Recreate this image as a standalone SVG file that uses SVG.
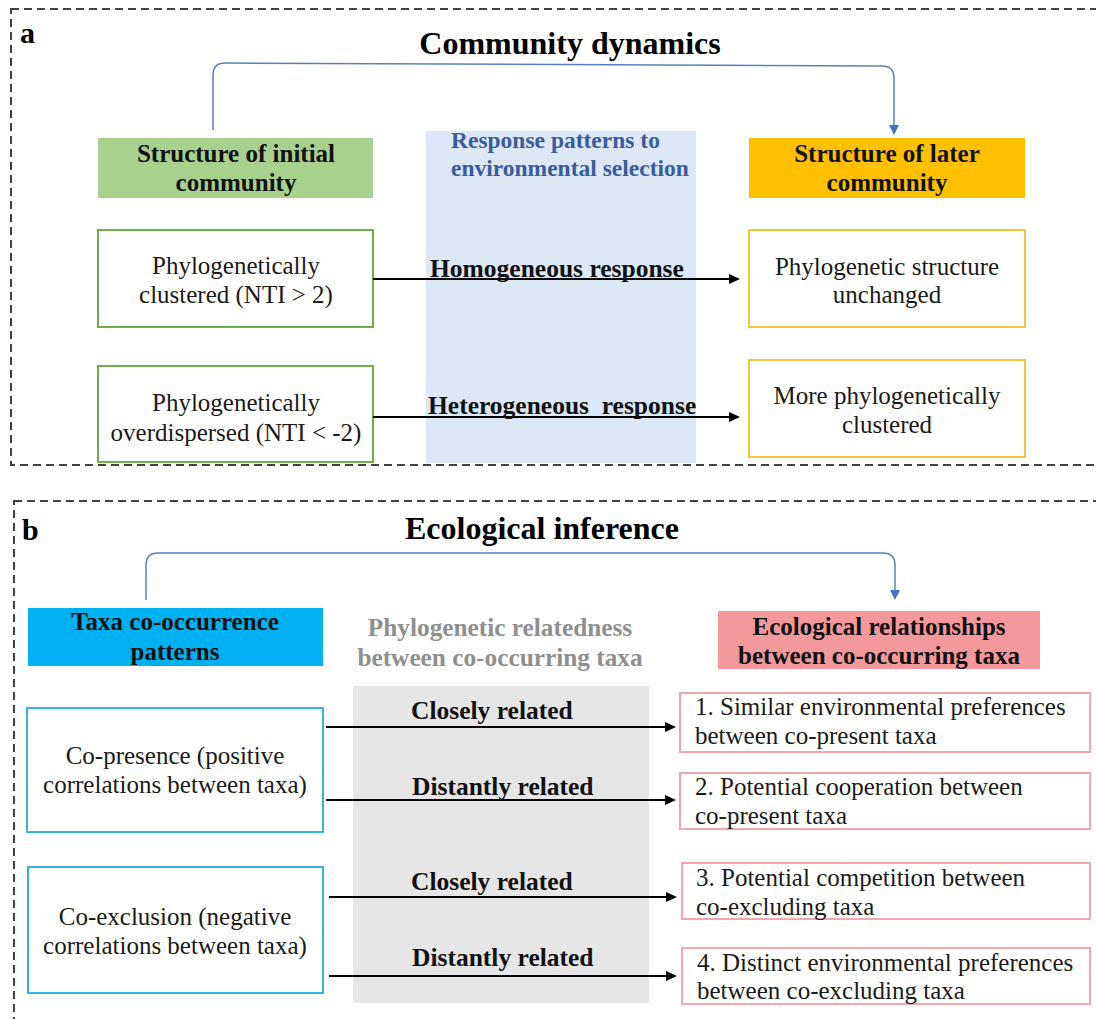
<svg xmlns="http://www.w3.org/2000/svg" width="1096" height="1019" viewBox="0 0 1096 1019">
<defs>
<marker id="ah" markerUnits="userSpaceOnUse" markerWidth="12" markerHeight="12" refX="0" refY="5" orient="auto"><path d="M0,0 L11,5 L0,10 z" fill="#000"/></marker>
<marker id="bh" markerUnits="userSpaceOnUse" markerWidth="12" markerHeight="12" refX="0" refY="5" orient="auto"><path d="M0,0 L10,5 L0,10 z" fill="#4472C4"/></marker>
</defs>
<style>
text{font-family:"Liberation Serif","Times New Roman",serif;}
.title{font-size:32px;font-weight:bold;fill:#000;text-anchor:middle}
.lab{font-size:30px;font-weight:bold;fill:#000}
.hd{font-size:25px;font-weight:bold;fill:#111;text-anchor:middle}
.bd{font-size:25px;fill:#1a1a1a;text-anchor:middle}
.bl{font-size:25px;fill:#1a1a1a}
.al{font-size:25.5px;font-weight:bold;fill:#111}
.panel{fill:none;stroke:#404040;stroke-width:2;stroke-dasharray:8 5}
.conn{fill:none;stroke:#000;stroke-width:2}
.br{fill:none;stroke:#5B80B5;stroke-width:1.5}
</style>
<rect class="panel" x="11" y="9" width="1100" height="456"/>
<rect class="panel" x="14" y="501" width="1100" height="540"/>
<text class="lab" x="20" y="43">a</text>
<text class="title" x="570" y="54">Community dynamics</text>
<text class="lab" x="22" y="540">b</text>
<text class="title" x="542" y="539">Ecological inference</text>

<g id="response-panel">
<rect x="426" y="131" width="270" height="332" fill="#DCE8F5"/>
<text x="451" y="148" font-size="23.5" font-weight="bold" fill="#3A5C9C">Response patterns to</text>
<text x="451" y="176" font-size="23.5" font-weight="bold" fill="#3A5C9C">environmental selection</text>
</g>
<g id="relatedness-panel">
<rect x="353" y="686" width="296" height="317" fill="#E6E6E6"/>
<text x="500" y="636" font-size="25.3" font-weight="bold" fill="#8F8F8F" text-anchor="middle">Phylogenetic relatedness</text>
<text x="500" y="666" font-size="25.3" font-weight="bold" fill="#8F8F8F" text-anchor="middle">between co-occurring taxa</text>
</g>

<g id="initial-header">
<rect x="98" y="138" width="275" height="60" fill="#A9D18E"/>
<text class="hd" x="236" y="162">Structure of initial</text>
<text class="hd" x="236" y="191">community</text>
</g>
<g id="later-header">
<rect x="749" y="138" width="276" height="60" fill="#FFC000"/>
<text class="hd" x="887" y="162">Structure of later</text>
<text class="hd" x="887" y="191">community</text>
</g>
<g id="clustered">
<rect x="98" y="230" width="275" height="97" fill="#fff" stroke="#70AD47" stroke-width="2"/>
<text class="bd" x="236" y="274">Phylogenetically</text>
<text class="bd" x="236" y="303">clustered (NTI &gt; 2)</text>
</g>
<g id="overdispersed">
<rect x="98" y="366" width="275" height="96" fill="#fff" stroke="#70AD47" stroke-width="2"/>
<text class="bd" x="236" y="411">Phylogenetically</text>
<text class="bd" x="236" y="441">overdispersed (NTI &lt; -2)</text>
</g>
<g id="unchanged">
<rect x="749" y="230" width="276" height="97" fill="#fff" stroke="#F5C443" stroke-width="2"/>
<text class="bd" x="887" y="275">Phylogenetic structure</text>
<text class="bd" x="887" y="303">unchanged</text>
</g>
<g id="more-clustered">
<rect x="749" y="360" width="276" height="97" fill="#fff" stroke="#F5C443" stroke-width="2"/>
<text class="bd" x="887" y="404">More phylogenetically</text>
<text class="bd" x="887" y="433">clustered</text>
</g>

<g id="cooccurrence-header">
<rect x="28" y="608" width="295" height="58" fill="#00B0F0"/>
<text class="hd" x="175" y="630">Taxa co-occurrence</text>
<text class="hd" x="175" y="660">patterns</text>
</g>
<g id="relationships-header">
<rect x="718" y="611" width="322" height="58" fill="#F4999B"/>
<text class="hd" x="879" y="635">Ecological relationships</text>
<text class="hd" x="879" y="664">between co-occurring taxa</text>
</g>
<g id="copresence">
<rect x="27" y="708" width="296" height="124" fill="#fff" stroke="#33B5E0" stroke-width="2"/>
<text class="bd" x="175" y="764">Co-presence (positive</text>
<text class="bd" x="175" y="793">correlations between taxa)</text>
</g>
<g id="coexclusion">
<rect x="28" y="867" width="295" height="126" fill="#fff" stroke="#33B5E0" stroke-width="2"/>
<text class="bd" x="175" y="925">Co-exclusion (negative</text>
<text class="bd" x="175" y="954">correlations between taxa)</text>
</g>
<g id="rel1">
<rect x="680" y="693" width="410" height="59" fill="#fff" stroke="#F2A7AD" stroke-width="2"/>
<text class="bl" x="695" y="715">1. Similar environmental preferences</text>
<text class="bl" x="695" y="744">between co-present taxa</text>
</g>
<g id="rel2">
<rect x="680" y="773" width="410" height="56" fill="#fff" stroke="#F2A7AD" stroke-width="2"/>
<text class="bl" x="695" y="795">2. Potential cooperation between</text>
<text class="bl" x="695" y="824">co-present taxa</text>
</g>
<g id="rel3">
<rect x="682" y="863" width="408" height="56" fill="#fff" stroke="#F2A7AD" stroke-width="2"/>
<text class="bl" x="696" y="886">3. Potential competition between</text>
<text class="bl" x="696" y="915">co-excluding taxa</text>
</g>
<g id="rel4">
<rect x="682" y="948" width="408" height="56" fill="#fff" stroke="#F2A7AD" stroke-width="2"/>
<text class="bl" x="697" y="971">4. Distinct environmental preferences</text>
<text class="bl" x="697" y="999">between co-excluding taxa</text>
</g>

<g id="connectors">
<path class="br" d="M213,130 L213,75 Q213,63 225,63 L882,66 Q894,66 894,78 L894,125" marker-end="url(#bh)"/>
<path class="br" d="M146,600 L146,565 Q146,553 158,553 L883,553 Q895,553 895,565 L895,590" marker-end="url(#bh)"/>
<line class="conn" x1="373" y1="279" x2="729" y2="279" marker-end="url(#ah)"/>
<line class="conn" x1="373" y1="417" x2="729" y2="417" marker-end="url(#ah)"/>
<line class="conn" x1="326" y1="727" x2="665" y2="727" marker-end="url(#ah)"/>
<line class="conn" x1="326" y1="800" x2="665" y2="800" marker-end="url(#ah)"/>
<line class="conn" x1="329" y1="897" x2="666" y2="897" marker-end="url(#ah)"/>
<line class="conn" x1="329" y1="976" x2="666" y2="976" marker-end="url(#ah)"/>
<text class="al" x="430" y="277">Homogeneous response</text>
<text class="al" x="428" y="414" xml:space="preserve">Heterogeneous  response</text>
<text class="al" x="411" y="719">Closely related</text>
<text class="al" x="412" y="795">Distantly related</text>
<text class="al" x="411" y="890">Closely related</text>
<text class="al" x="412" y="966">Distantly related</text>
</g>
</svg>
